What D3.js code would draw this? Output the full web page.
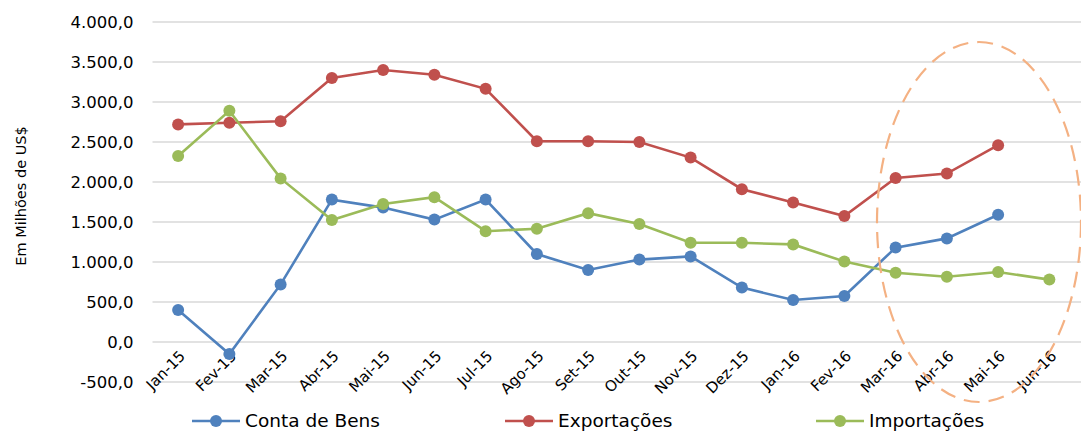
<!DOCTYPE html>
<html>
<head>
<meta charset="utf-8">
<script src="https://cdn.jsdelivr.net/npm/d3@7"></script>
<style>
  body { margin: 0; background: #fff; }
  text { font-family: "DejaVu Sans", sans-serif; fill: #000; }
</style>
</head>
<body>
<div id="chart"></div>
<script>
const width = 1081,
      height = 432,
      margin = { top: 22, right: 6, bottom: 50, left: 152.5 };

const months = ['Jan-15','Fev-15','Mar-15','Abr-15','Mai-15','Jun-15','Jul-15','Ago-15','Set-15',
                'Out-15','Nov-15','Dez-15','Jan-16','Fev-16','Mar-16','Abr-16','Mai-16','Jun-16'];

const contaBens = [400, -150, 720, 1780, 1680, 1530, 1780, 1100, 900, 1030, 1070, 680, 525, 575, 1180, 1295, 1590, null];
const exportacoes = [2720, 2740, 2760, 3300, 3400, 3340, 3165, 2510, 2510, 2500, 2305, 1910, 1745, 1575, 2050, 2105, 2460, null];
const importacoes = [2325, 2890, 2045, 1525, 1725, 1810, 1385, 1415, 1610, 1475, 1240, 1240, 1220, 1005, 865, 815, 875, 780];

const yTicks = [-500, 0, 500, 1000, 1500, 2000, 2500, 3000, 3500, 4000];

const series = [
  { name: 'Conta de Bens', values: contaBens, color: '#4f81bd' },
  { name: 'Exportações', values: exportacoes, color: '#c0504d' },
  { name: 'Importações', values: importacoes, color: '#9bbb59' }
];

const innerHeight = 382 - margin.top;

const svg = d3.select('#chart').append('svg')
    .attr('width', width)
    .attr('height', height);

const plot = svg.append('g')
    .attr('transform', `translate(${margin.left}, ${margin.top})`);

const xScale = d3.scaleBand()
    .domain(months)
    .range([0, 1075 - margin.left]);

const yScale = d3.scaleLinear()
    .domain([-500, 4000])
    .range([innerHeight, 0]);

// pt-BR style: 4.000,0 and a plain hyphen for negatives
const fmt = d => d3.format(',.1f')(Math.abs(d)).replace(/,/g, '#').replace('.', ',').replace(/#/g, '.')
  .replace(/^/, d < 0 ? '-' : '');

// gridlines
plot.selectAll('.grid')
  .data(yTicks)
  .enter().append('line')
    .attr('x1', 0)
    .attr('x2', width - margin.left)
    .attr('y1', d => yScale(d))
    .attr('y2', d => yScale(d))
    .attr('stroke', '#d9d9d9')
    .attr('stroke-width', 1.3);

// y tick labels
plot.selectAll('.ylab')
  .data(yTicks)
  .enter().append('text')
    .attr('x', -19)
    .attr('y', d => yScale(d))
    .attr('dy', '0.35em')
    .attr('text-anchor', 'end')
    .style('font-size', '16.5px')
    .text(fmt);

// x labels
plot.selectAll('.xlab')
  .data(months)
  .enter().append('text')
    .attr('transform', d => `translate(${xScale(d) + xScale.bandwidth() / 2 + 8}, ${yScale(0) + 15}) rotate(-45)`)
    .attr('text-anchor', 'end')
    .style('font-size', '15px')
    .text(d => d);

// y axis title
svg.append('text')
    .attr('transform', 'translate(26, 196) rotate(-90)')
    .attr('text-anchor', 'middle')
    .style('font-size', '14.5px')
    .text('Em Milhões de US$');

const cx = d => xScale(d) + xScale.bandwidth() / 2;

const line = d3.line()
    .defined(d => d.v !== null)
    .x(d => cx(d.m))
    .y(d => yScale(d.v));

series.forEach(s => {
  const pts = months.map((m, i) => ({ m: m, v: s.values[i] }));
  plot.append('path')
      .datum(pts)
      .attr('fill', 'none')
      .attr('stroke', s.color)
      .attr('stroke-width', 2.6)
      .attr('d', line);
  plot.selectAll(null)
    .data(pts.filter(d => d.v !== null))
    .enter().append('circle')
      .attr('cx', d => cx(d.m))
      .attr('cy', d => yScale(d.v))
      .attr('r', 6)
      .attr('fill', s.color);
});

// highlight ellipse
svg.append('ellipse')
    .attr('cx', 979)
    .attr('cy', 222)
    .attr('rx', 102)
    .attr('ry', 180)
    .attr('fill', 'none')
    .attr('stroke', '#f4b183')
    .attr('stroke-width', 2.2)
    .attr('stroke-dasharray', '16,9');

// legend
const legendX = [192, 505, 816];
const legend = svg.selectAll('.legend')
  .data(series)
  .enter().append('g')
    .attr('transform', (d, i) => `translate(${legendX[i]}, 421)`);

legend.append('line')
    .attr('x1', 0).attr('x2', 48)
    .attr('stroke', d => d.color)
    .attr('stroke-width', 2.6);

legend.append('circle')
    .attr('cx', 24)
    .attr('r', 6)
    .attr('fill', d => d.color);

legend.append('text')
    .attr('x', 53)
    .attr('dy', '0.35em')
    .style('font-size', '18.5px')
    .text(d => d.name);
</script>
</body>
</html>
